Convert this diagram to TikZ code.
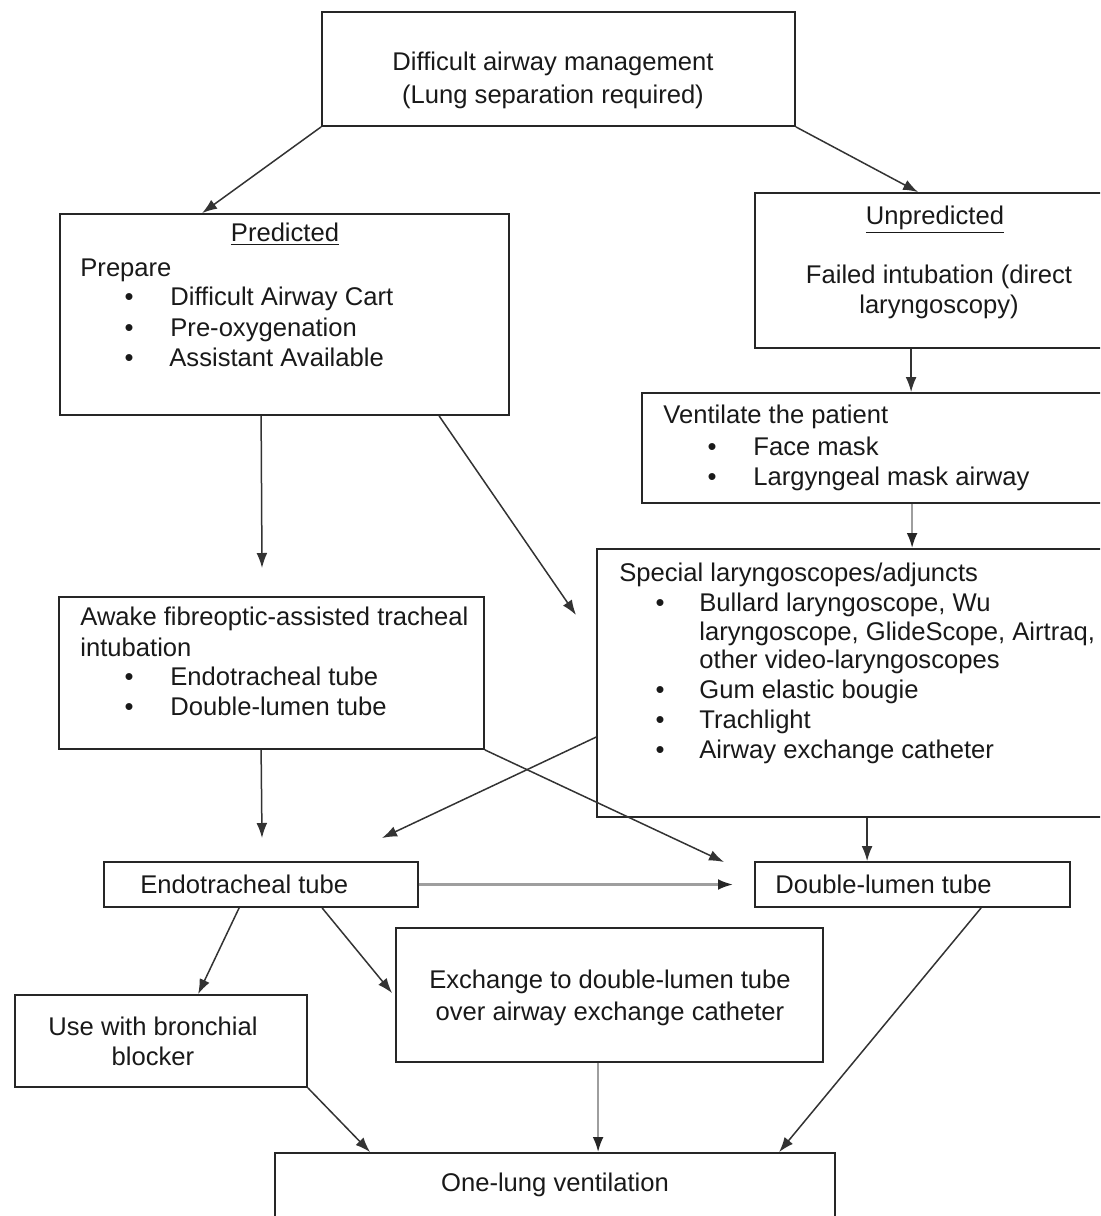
\documentclass[tikz,border=0pt]{standalone}
\usepackage{fontspec}
\setmainfont{Liberation Sans}
\usetikzlibrary{arrows.meta,calc,fit}
\begin{document}
\begin{tikzpicture}[x=0.5pt,y=-0.5pt,
  box/.style={draw=black!85,line width=0.9pt,inner sep=0pt},
  txt/.style={inner sep=0pt,font=\fontsize{12.8}{15}\selectfont,text=black!90},
  arr/.style={draw=black!80,line width=0.75pt,-{Latex[length=7.5pt,width=5.4pt]}},
  garr/.style={draw=black!38,line width=1.1pt,-{Latex[length=7.5pt,width=5.4pt,color=black!85,fill=black!85]}}]
\useasboundingbox (0,0) rectangle (1100,1216);
\clip (0,0) rectangle (1100,1216);
% boxes
\node[box,fit={(322,12)(795,126)}] (top) {};
\node[box,fit={(60,214)(509,415)}] (pred) {};
\node[box,fit={(755,193)(1112,348)}] (unpred) {};
\node[box,fit={(642,393)(1112,503)}] (vent) {};
\node[box,fit={(597,549)(1112,817)}] (spec) {};
\node[box,fit={(59,597)(484,749)}] (awake) {};
\node[box,fit={(104,862)(418,907)}] (ett) {};
\node[box,fit={(755,862)(1070,907)}] (dlt) {};
\node[box,fit={(396,928)(823,1062)}] (exch) {};
\node[box,fit={(15,995)(307,1087)}] (bb) {};
\node[box,fit={(275,1153)(835,1240)}] (olv) {};
% texts
\node[txt,anchor=base] (t1) at (553,70) {Difficult airway management};
\node[txt,anchor=base] (t2) at (553,103) {(Lung separation required)};
\node[txt,anchor=base] (p0) at (285,241) {\underline{Predicted}};
\node[txt,anchor=base west] (p1) at (80,276) {Prepare};
\node[txt,anchor=base] (pb1) at (129,305) {•};
\node[txt,anchor=base] (pb2) at (129,336) {•};
\node[txt,anchor=base] (pb3) at (129,366) {•};
\node[txt,anchor=base west] (p2) at (170,305) {Difficult Airway Cart};
\node[txt,anchor=base west] (p3) at (170,336) {Pre-oxygenation};
\node[txt,anchor=base west] (p4) at (169,366) {Assistant Available};
\node[txt,anchor=base] (u0) at (935,224) {\underline{Unpredicted}};
\node[txt,anchor=base] (u1) at (939,283) {Failed intubation (direct};
\node[txt,anchor=base] (u2) at (939,313) {laryngoscopy)};
\node[txt,anchor=base west] (v0) at (663,423) {Ventilate the patient};
\node[txt,anchor=base] (vb1) at (712,455) {•};
\node[txt,anchor=base] (vb2) at (712,485) {•};
\node[txt,anchor=base west] (v1) at (753,455) {Face mask};
\node[txt,anchor=base west] (v2) at (753,485) {Largyngeal mask airway};
\node[txt,anchor=base west] (s0) at (619,581) {Special laryngoscopes/adjuncts};
\node[txt,anchor=base] (sb1) at (660,611) {•};
\node[txt,anchor=base] (sb2) at (660,698) {•};
\node[txt,anchor=base] (sb3) at (660,728) {•};
\node[txt,anchor=base] (sb4) at (660,758) {•};
\node[txt,anchor=base west] (s1) at (699,611) {Bullard laryngoscope, Wu};
\node[txt,anchor=base west] (s2) at (699,640) {laryngoscope, GlideScope, Airtraq,};
\node[txt,anchor=base west] (s3) at (699,668) {other video-laryngoscopes};
\node[txt,anchor=base west] (s4) at (699,698) {Gum elastic bougie};
\node[txt,anchor=base west] (s5) at (699,728) {Trachlight};
\node[txt,anchor=base west] (s6) at (699,758) {Airway exchange catheter};
\node[txt,anchor=base west] (a0) at (80,625) {Awake fibreoptic-assisted tracheal};
\node[txt,anchor=base west] (a1) at (80,656) {intubation};
\node[txt,anchor=base] (ab1) at (129,685) {•};
\node[txt,anchor=base] (ab2) at (129,715) {•};
\node[txt,anchor=base west] (a2) at (170,685) {Endotracheal tube};
\node[txt,anchor=base west] (a3) at (170,715) {Double-lumen tube};
\node[txt,anchor=base west] (e0) at (140,893) {Endotracheal tube};
\node[txt,anchor=base west] (d0) at (775,893) {Double-lumen tube};
\node[txt,anchor=base] (x1) at (610,988) {Exchange to double-lumen tube};
\node[txt,anchor=base] (x2) at (610,1020) {over airway exchange catheter};
\node[txt,anchor=base] (b1) at (153,1035) {Use with bronchial};
\node[txt,anchor=base] (b2) at (153,1065) {blocker};
\node[txt,anchor=base] (o1) at (555,1191) {One-lung ventilation};
% free ends
\coordinate (f5) at (262,568);
\coordinate (f6) at (576,615);
\coordinate (f7) at (262,838);
\coordinate (f8) at (382,838);
\coordinate (f9) at (724,862);
\coordinate (f11) at (733,884.5);
% connectors
\draw[arr] (top.south west) -- ($(pred.north west)+(143,0)$);
\draw[arr] (top.south east) -- ($(unpred.north west)+(164,0)$);
\draw[arr] ($(unpred.south west)+(157,0)$) -- ($(vent.north west)+(270,0)$);
\draw[garr] ($(vent.south west)+(271,0)$) -- ($(spec.north west)+(316,0)$);
\draw[arr] ($(pred.south west)+(202,0)$) -- (f5);
\draw[arr] ($(pred.south west)+(380,0)$) -- (f6);
\draw[arr] ($(awake.south west)+(203,0)$) -- (f7);
\draw[arr] ($(spec.north west)+(0,189)$) -- (f8);
\draw[arr] (awake.south east) -- (f9);
\draw[arr] ($(spec.south west)+(271,0)$) -- ($(dlt.north west)+(113,0)$);
\draw[garr] (ett.east) -- (f11);
\draw[arr] ($(ett.south west)+(136,0)$) -- ($(bb.north west)+(184,0)$);
\draw[arr] ($(ett.south west)+(219,0)$) -- ($(exch.north west)+(-3,66)$);
\draw[arr] (bb.south east) -- ($(olv.north west)+(96,0)$);
\draw[garr] ($(exch.south west)+(203,0)$) -- ($(olv.north west)+(324,0)$);
\draw[arr] ($(dlt.south west)+(227,0)$) -- ($(olv.north west)+(505,0)$);
\end{tikzpicture}
\end{document}
